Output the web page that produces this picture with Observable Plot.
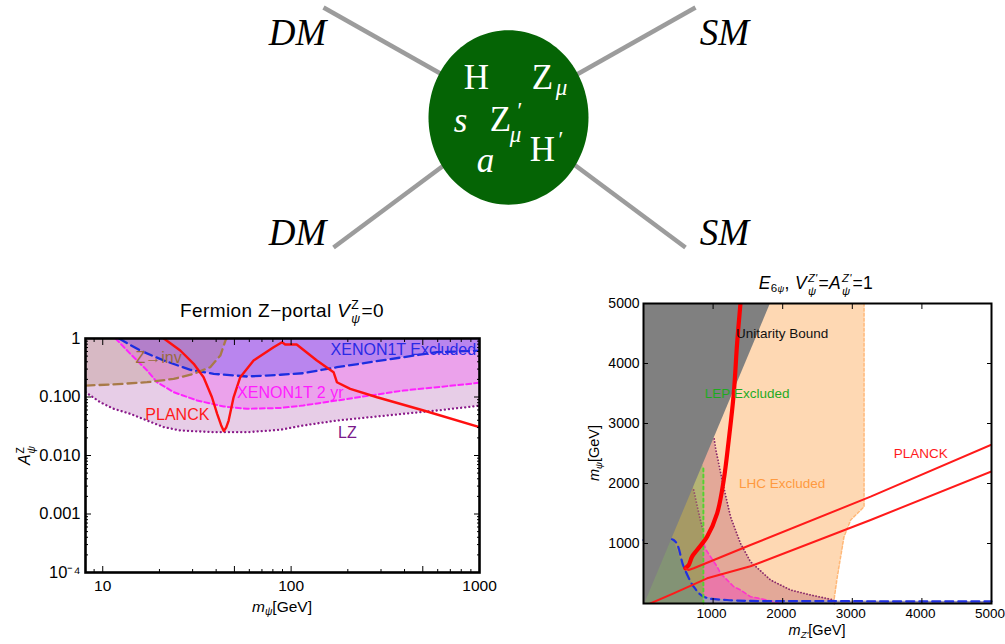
<!DOCTYPE html>
<html><head><meta charset="utf-8">
<script src="https://cdn.jsdelivr.net/npm/d3@7"></script>
<script src="https://cdn.jsdelivr.net/npm/@observablehq/plot@0.6"></script>
<style>
body{margin:0;background:#fff;}
#root{position:relative;width:1005px;height:644px;overflow:hidden;font-family:"Liberation Sans",Arial,sans-serif;color:#000;background:#fff;}
.pl{position:absolute;}
.lbl{position:absolute;white-space:nowrap;transform:translate(-50%,-50%);line-height:1;}
.rot{transform:translate(-50%,-50%) rotate(-90deg);}
.ss{display:inline-flex;flex-direction:column;vertical-align:0.62em;font-size:0.64em;line-height:1.12;margin:0 1px;text-align:left;}
.sb{font-size:0.66em;vertical-align:-0.3em;}
</style></head><body><div id="root"></div>
<script>
// ---------------- data: left panel (Fermion Z-portal) ----------------
const lzMass       = [8.1, 9.7, 11.4, 14.0, 17.2, 21.1, 25.8, 38.8, 58.3, 87.7, 116, 175, 395, 594, 1000];
const lzCoupling   = [0.121, 0.0815, 0.063, 0.0516, 0.0396, 0.0305, 0.0268, 0.025, 0.025, 0.0275, 0.0326, 0.0396, 0.0516, 0.0588, 0.071];
const x2yrMass     = [11.7, 14.0, 17.2, 19.4, 23.8, 31.7, 43.9, 58.3, 87.7, 116, 175, 263, 395, 594, 1000];
const x2yrCoupling = [1, 0.547, 0.284, 0.179, 0.121, 0.0871, 0.0688, 0.063, 0.065, 0.0716, 0.0871, 0.106, 0.129, 0.147, 0.175];
const x1tMass      = [12.2, 15.8, 21.1, 29.2, 38.8, 58.3, 87.7, 116, 175, 263, 395, 594, 1000];
const x1tCoupling  = [1, 0.624, 0.42, 0.291, 0.249, 0.224, 0.24, 0.255, 0.323, 0.394, 0.48, 0.583, 0.62];
const zinvMass     = [8.1, 11.4, 17.2, 23.8, 30.4, 37.2, 42.1, 44.8, 45.5];
const zinvCoupling = [0.157, 0.164, 0.179, 0.204, 0.249, 0.323, 0.512, 0.924, 1];
const planckMass     = [21.1, 25.8, 30.4, 34.3, 38.0, 40.5, 42.5, 43.9, 45.2, 46.6, 49.5, 53.7, 63.2, 80.7, 89.5, 93, 107, 137, 168, 175, 206, 286, 505, 1000];
const planckCoupling = [1, 0.624, 0.369, 0.218, 0.099, 0.0516, 0.033, 0.0262, 0.03, 0.0396, 0.099, 0.218, 0.42, 0.71, 0.865, 0.79, 0.79, 0.42, 0.266, 0.179, 0.138, 0.099, 0.0588, 0.0305];
const leftXMajor  = [10, 50, 100, 500, 1000];
const leftXLabels = ["10", "50", "100", "500", "1000"];
const leftXMinor  = [9, 20, 30, 40, 60, 70, 80, 90, 200, 300, 400, 600, 700, 800, 900];
const leftYMajor  = [1e-4, 1e-3, 1e-2, 1e-1, 1];
const leftYLabels = ["10\u207B\u2074", "0.001", "0.010", "0.100", "1"];
const leftYMinor  = [2e-4,3e-4,4e-4,5e-4,6e-4,7e-4,8e-4,9e-4, 2e-3,3e-3,4e-3,5e-3,6e-3,7e-3,8e-3,9e-3, 0.02,0.03,0.04,0.05,0.06,0.07,0.08,0.09, 0.2,0.3,0.4,0.5,0.6,0.7,0.8,0.9];
const leftNoteText = ["XENON1T Excluded", "XENON1T 2 yr", "PLANCK", "LZ", "Z\u2192inv"];
const leftNoteMass = [394, 99, 24.9, 199, 19.8];
const leftNoteCoupling = [0.649, 0.119, 0.050, 0.0247, 0.473];

// ---------------- data: right panel (E6 psi) ----------------
const lhcEdgeMass = [0, 58, 447, 780, 1114, 1392, 1614, 5000];
const lhcEdgeMz   = [2736, 2736, 2784, 2832, 2880, 2976, 3168, 3168];
const lzEdgeMass  = [0, 58, 142, 225, 392, 697, 1003, 1447, 2003, 2558, 2754];
const lzEdgeMz    = [2740, 2736, 2400, 2112, 1825, 1537, 1393, 1250, 1140, 1040, 1014];
const lzInnerMz   = [721, 817, 860];          // inner LZ contour inside the LEP band
const lzInnerMass = [1892, 1392, 1200];
const lepTopMass  = 2300;
const x2yrEdgeMass = [0, 58, 114, 225, 280, 503, 614, 892, 1000];
const x2yrEdgeMz   = [1950, 1777, 1537, 1393, 1297, 1106, 1058, 900, 865];
const x1tEdgeMz    = [0, 433, 577, 721, 865, 1200, 2736, 5000];
const x1tEdgeMass  = [1058, 1058, 614, 280, 114, 58, 40, 35];
const lepEdgeMz    = [860, 860];
const lepEdgeMass  = [0, 2250];
const unitarityMz   = [20, 1825];
const unitarityMass = [0, 5000];
const planckThickMz   = [1393, 1345, 1297, 1225, 1153, 1058, 914, 770, 698, 650, 602];
const planckThickMass = [5000, 4337, 3503, 2725, 2059, 1503, 1114, 892, 781, 642, 587];
const planckUpperMz   = [602, 649, 721, 1537, 3263, 4990];
const planckUpperMass = [587, 558, 587, 975, 1781, 2642];
const planckLowerMz   = [98, 433, 914, 1537, 3263, 4990];
const planckLowerMass = [0, 170, 420, 620, 1392, 2197];
const rightMajor = [1000, 2000, 3000, 4000, 5000];
const rightNoteText = ["Unitarity Bound", "LEP Excluded", "LHC Excluded", "PLANCK"];
const rightNoteMz   = [1993, 1489, 1993, 3983];
const rightNoteMass = [4504, 3504, 1992, 2504];

// ---------------- diagram (pixel space of the top panel) ----------------
const legX1 = [323, 333, 695, 685];
const legY1 = [7, 247, 7, 247];
const legX2 = [470, 470, 548, 548];
const legY2 = [90, 145, 90, 145];
const blobX = [508], blobY = [117];
const outerText = ["DM", "DM", "SM", "SM"];
const outerX = [297, 297, 724, 724];
const outerY = [33, 233, 33, 233];
const romanText = ["H", "Z", "Z", "H"];
const romanX = [476, 542, 500, 542];
const romanY = [77, 77, 119, 149];
const italicText = ["s", "a"];
const italicX = [460, 485];
const italicY = [120, 160];
const smallText = ["\u03BC", "\u03BC", "\u2032", "\u2032"];
const smallX = [561, 515, 518, 559];
const smallY = [87, 134, 110, 139];

// ---------------- helpers ----------------
const zip = (a, b, ka, kb) => a.map((v, i) => ({[ka]: v, [kb]: b[i]}));
const root = document.getElementById("root");
function place(svg, left, top) { svg.classList.add("pl"); svg.style.left = left + "px"; svg.style.top = top + "px"; root.appendChild(svg); }
function label(html, x, y, size, extra = "", spacing = 0) {
  const d = document.createElement("div");
  d.className = "lbl " + extra; d.style.left = x + "px"; d.style.top = y + "px"; d.style.fontSize = size + "px";
  d.style.letterSpacing = spacing + "px";
  d.innerHTML = html; root.appendChild(d);
}
const ONE = () => 1, ZERO = () => 0;
const baseStyle = {fontFamily: "Liberation Sans, Arial, sans-serif", background: "transparent", overflow: "visible", color: "#000"};

// ---------------- top diagram ----------------
const ellipse = {draw(ctx, size) {
  const r = Math.sqrt(size / Math.PI), rx = r, ry = r * 1.09, k = 0.5523;
  ctx.moveTo(rx, 0);
  ctx.bezierCurveTo(rx, ry * k, rx * k, ry, 0, ry);
  ctx.bezierCurveTo(-rx * k, ry, -rx, ry * k, -rx, 0);
  ctx.bezierCurveTo(-rx, -ry * k, -rx * k, -ry, 0, -ry);
  ctx.bezierCurveTo(rx * k, -ry, rx, -ry * k, rx, 0);
  ctx.closePath();
}};
const legs = legX1.map((v, i) => ({x1: v, y1: legY1[i], x2: legX2[i], y2: legY2[i]}));
const diagram = Plot.plot({
  width: 1005, height: 260, margin: 0,
  x: {domain: [0, 1005], axis: null}, y: {domain: [0, 260], range: [0, 260], axis: null},
  style: {...baseStyle, fontFamily: "Liberation Serif, DejaVu Serif, serif"},
  marks: [
    Plot.link(legs, {x1: "x1", y1: "y1", x2: "x2", y2: "y2", stroke: "#9c9c9c", strokeWidth: 4.5}),
    Plot.dot(zip(blobX, blobY, "x", "y"), {x: "x", y: "y", r: 80, symbol: ellipse, fill: "#056405", stroke: "none"}),
    Plot.text(outerText.map((t, i) => ({t, x: outerX[i], y: outerY[i]})), {x: "x", y: "y", text: "t", fontSize: 37, fontStyle: "italic", fill: "#000"}),
    Plot.text(romanText.map((t, i) => ({t, x: romanX[i], y: romanY[i]})), {x: "x", y: "y", text: "t", fontSize: 35, fill: "#fff"}),
    Plot.text(italicText.map((t, i) => ({t, x: italicX[i], y: italicY[i]})), {x: "x", y: "y", text: "t", fontSize: 35, fontStyle: "italic", fill: "#fff"}),
    Plot.text(smallText.map((t, i) => ({t, x: smallX[i], y: smallY[i]})), {x: "x", y: "y", text: "t", fontSize: 23, fontStyle: "italic", fill: "#fff"})
  ]
});
place(diagram, 0, 0);

// ---------------- left panel ----------------
const lz = zip(lzMass, lzCoupling, "m", "a");
const x2 = zip(x2yrMass, x2yrCoupling, "m", "a");
const x1 = zip(x1tMass, x1tCoupling, "m", "a");
const zi = zip(zinvMass, zinvCoupling, "m", "a");
const pl = zip(planckMass, planckCoupling, "m", "a");
const leftNotes = leftNoteText.map((t, i) => ({t, m: leftNoteMass[i], a: leftNoteCoupling[i]}));
const noteColors = ["#2a2ae6", "#ff1cff", "#ff1a1a", "#7a1a8a", "#9a6a40"];
const left = Plot.plot({
  width: 500, height: 290, marginTop: 8, marginLeft: 85, marginRight: 21, marginBottom: 48,
  x: {type: "log", domain: [8.1, 1000], label: null, axis: null},
  y: {type: "log", domain: [1e-4, 1], label: null, axis: null},
  style: {...baseStyle, fontSize: "15px"},
  marks: [
    Plot.areaY(lz, {x: "m", y1: "a", y2: ONE, fill: "#e7cde7"}),
    Plot.areaY(x2, {x: "m", y1: "a", y2: ONE, fill: "#eba2eb"}),
    Plot.areaY(x1, {x: "m", y1: "a", y2: ONE, fill: "#b985ee"}),
    Plot.areaY(zi, {x: "m", y1: "a", y2: ONE, fill: "#9c6a3c", fillOpacity: 0.2}),
    Plot.line(lz, {x: "m", y: "a", stroke: "#8a1a8a", strokeWidth: 2.3, strokeDasharray: "0.1,4", strokeLinecap: "round", clip: true}),
    Plot.line(x2, {x: "m", y: "a", stroke: "#ff22ff", strokeWidth: 2, strokeDasharray: "5,3", clip: true}),
    Plot.line(x1, {x: "m", y: "a", stroke: "#1c2ee0", strokeWidth: 2.3, strokeDasharray: "9,5", clip: true}),
    Plot.line(zi, {x: "m", y: "a", stroke: "#a87a48", strokeWidth: 2.3, strokeDasharray: "9,5", clip: true}),
    Plot.line(pl, {x: "m", y: "a", stroke: "#ff1010", strokeWidth: 2.4, clip: true}),
    Plot.text(leftNotes, {x: "m", y: "a", text: "t", fill: (d, i) => noteColors[i], fontSize: 16}),
    Plot.axisX(leftXMajor, {anchor: "bottom", tickSize: -6, tickFormat: () => "", label: null}),
    Plot.axisX(leftXMajor, {anchor: "top", tickSize: -6, tickFormat: () => "", label: null}),
    Plot.axisX(leftXMinor, {anchor: "bottom", tickSize: -3, tickFormat: () => "", label: null}),
    Plot.axisX(leftXMinor, {anchor: "top", tickSize: -3, tickFormat: () => "", label: null}),
    Plot.axisY(leftYMajor, {anchor: "left", tickSize: -6, tickFormat: () => "", label: null}),
    Plot.axisY(leftYMajor, {anchor: "right", tickSize: -6, tickFormat: () => "", label: null}),
    Plot.axisY(leftYMinor, {anchor: "left", tickSize: -3, tickFormat: () => "", label: null}),
    Plot.axisY(leftYMinor, {anchor: "right", tickSize: -3, tickFormat: () => "", label: null}),
    Plot.axisX(leftXMajor, {anchor: "bottom", tickSize: 0, tickPadding: 7, fontSize: 15.5, tickFormat: d => leftXLabels[leftXMajor.indexOf(d)], label: null}),
    Plot.axisY(leftYMajor, {anchor: "left", tickSize: 0, tickPadding: 5, fontSize: 16.5, tickFormat: d => leftYLabels[leftYMajor.indexOf(d)], label: null}),
    Plot.frame({stroke: "#000", strokeWidth: 2.6})
  ]
});
place(left, 0, 330);

// ---------------- right panel ----------------
const lhc = zip(lhcEdgeMass, lhcEdgeMz, "m", "mz");
const lzr = zip(lzEdgeMass, lzEdgeMz, "m", "mz");
const lzIn = zip(lzInnerMz, lzInnerMass, "mz", "m");
const x2r = zip(x2yrEdgeMass, x2yrEdgeMz, "m", "mz");
const x1r = zip(x1tEdgeMz, x1tEdgeMass, "mz", "m");
const lepLine = zip(lepEdgeMz, lepEdgeMass, "mz", "m");
const lepArea = [{mz: 0, m: lepTopMass}, {mz: lepEdgeMz[0], m: lepTopMass}];
const uni = zip(unitarityMass, unitarityMz, "m", "mz");
const pThick = zip(planckThickMz, planckThickMass, "mz", "m");
const pUp = zip(planckUpperMz, planckUpperMass, "mz", "m");
const pLow = zip(planckLowerMz, planckLowerMass, "mz", "m");
const rightNotes = rightNoteText.map((t, i) => ({t, mz: rightNoteMz[i], m: rightNoteMass[i]}));
const rightNoteColors = ["#111", "#1faa1f", "#ff9a40", "#ff1a1a"];
const lepX = lepEdgeMz[0];
const LHC_FILL = "#fed8b3";
const right = Plot.plot({
  width: 445, height: 335, marginTop: 13, marginLeft: 83, marginRight: 14, marginBottom: 22,
  x: {domain: [0, 5000], label: null, axis: null},
  y: {domain: [0, 5000], label: null, axis: null},
  style: {...baseStyle, fontSize: "14px"},
  marks: [
    Plot.areaX(lhc, {y: "m", x1: ZERO, x2: "mz", fill: LHC_FILL}),
    Plot.areaX(lzr, {y: "m", x1: ZERO, x2: "mz", fill: "#e3a898"}),
    Plot.areaY(lzIn, {x: "mz", y1: "m", y2: () => lepTopMass, fill: LHC_FILL}),
    Plot.areaX(x2r, {y: "m", x1: () => lepX, x2: "mz", fill: "#ea79a8"}),
    Plot.areaY(x1r, {x: "mz", y1: ZERO, y2: "m", fill: "#a49cb4"}),
    Plot.areaY(lepArea, {x: "mz", y1: ZERO, y2: "m", fill: "#5a8a28", fillOpacity: 0.45}),
    Plot.line(lhc, {x: "mz", y: "m", stroke: "#ffb878", strokeWidth: 1.6, strokeDasharray: "3,2"}),
    Plot.line(lzr, {x: "mz", y: "m", stroke: "#8a2a6a", strokeWidth: 1.8, strokeDasharray: "0.1,3", strokeLinecap: "round"}),
    Plot.line(lzIn, {x: "mz", y: "m", stroke: "#8a2a6a", strokeWidth: 1.8, strokeDasharray: "0.1,3", strokeLinecap: "round", strokeOpacity: 0.7}),
    Plot.line(x2r, {x: "mz", y: "m", stroke: "#ff33cc", strokeWidth: 1.6, strokeDasharray: "4,3"}),
    Plot.line(x1r, {x: "mz", y: "m", stroke: "#2030e0", strokeWidth: 2.2, strokeDasharray: "8,5", curve: "catmull-rom"}),
    Plot.line(lepLine, {x: "mz", y: "m", stroke: "#55d030", strokeWidth: 2, strokeDasharray: "3,3"}),
    Plot.areaX(uni, {y: "m", x1: ZERO, x2: "mz", fill: "#808080"}),
    Plot.line(pThick, {x: "mz", y: "m", stroke: "#ff0000", strokeWidth: 4.2, curve: "catmull-rom", clip: true}),
    Plot.line(pUp, {x: "mz", y: "m", stroke: "#ff1a1a", strokeWidth: 2, clip: true}),
    Plot.line(pLow, {x: "mz", y: "m", stroke: "#ff1a1a", strokeWidth: 2, clip: true}),
    Plot.text(rightNotes, {x: "mz", y: "m", text: "t", fill: (d, i) => rightNoteColors[i], fontSize: 13.5}),
    Plot.axisX(rightMajor, {anchor: "bottom", tickSize: -5, tickFormat: () => "", label: null}),
    Plot.axisX(rightMajor, {anchor: "top", tickSize: -5, tickFormat: () => "", label: null}),
    Plot.axisY(rightMajor, {anchor: "left", tickSize: -5, tickFormat: () => "", label: null}),
    Plot.axisY(rightMajor, {anchor: "right", tickSize: -5, tickFormat: () => "", label: null}),
    Plot.axisX(rightMajor, {anchor: "bottom", tickSize: 0, tickPadding: 5, fontSize: 13.5, dx: -1.5, tickFormat: d => String(d), label: null}),
    Plot.axisY(rightMajor, {anchor: "left", tickSize: 0, tickPadding: 4, fontSize: 14, tickFormat: d => String(d), label: null}),
    Plot.frame({stroke: "#000", strokeWidth: 2})
  ]
});
place(right, 560, 290);

// ---------------- titles and axis labels ----------------
label('Fermion Z\u2212portal <i>V</i><span class="ss"><span>Z</span><i>\u03C8</i></span>=0', 282, 313, 19, "", 0.4);
label('<i>A</i><span class="ss"><span>Z</span><i>\u03C8</i></span>', 26, 455, 16, "rot");
label('<i>m</i><span class="sb"><i>\u03C8</i></span>[GeV]', 282, 608, 15.5);
label('<i>E</i><span class="sb">6<span style="font-size:0.8em"><i>\u03C8</i></span></span>, <i>V</i><span class="ss"><span><i>Z\'</i></span><i>\u03C8</i></span>=<i>A</i><span class="ss"><span><i>Z\'</i></span><i>\u03C8</i></span>=1', 816, 285, 17.5, "", 0.3);
label('<i>m</i><span class="sb"><i>Z\'</i></span>[GeV]', 817, 631, 14.5);
label('<i>m</i><span class="sb"><i>\u03C8</i></span>[GeV]', 595, 453, 14.5, "rot");
</script></body></html>
